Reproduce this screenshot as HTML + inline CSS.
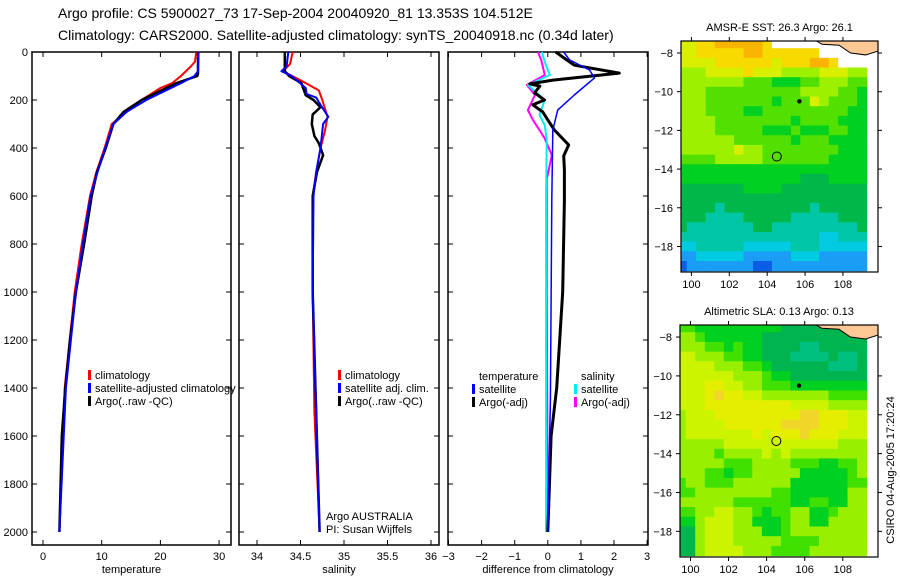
<!DOCTYPE html>
<html><head><meta charset="utf-8">
<style>
html,body{margin:0;padding:0;background:#fff;}
svg{display:block;font-family:"Liberation Sans",sans-serif;}
</style></head>
<body>
<svg id="fig" width="900" height="580" viewBox="0 0 900 580">
<text x="58" y="18" font-size="14">Argo profile: CS 5900027_73 17-Sep-2004 20040920_81 13.353S 104.512E</text>
<text x="58" y="40" font-size="14">Climatology: CARS2000. Satellite-adjusted climatology: synTS_20040918.nc (0.34d later)</text>
</svg>
<script>
// ---------- DATA ----------
const depthTicks=[0,200,400,600,800,1000,1200,1400,1600,1800,2000];
const tempTicks=[0,10,20,30];
const salTicks=[34,34.5,35,35.5,36];
const diffTicks=[-3,-2,-1,0,1,2,3];
const tempArgoD=[0,90,100,130,150,200,250,300,400,500,600,800,1000,1200,1400,1600,1800,2000];
const tempArgoV=[26.4,26.4,26.3,22.7,21,16.8,13.7,12,10.7,9.2,8.3,7.0,5.6,4.6,3.8,3.2,3.0,2.8];
const tempClimD=[0,40,60,100,130,150,200,300,400,500,600,800,1000,1400,2000];
const tempClimV=[26.1,25.9,25.2,23.5,22,20,16.8,11.7,10.5,9.1,8,6.6,5.4,3.7,2.8];
const tempSatD=[0,80,100,130,150,200,250,300,400,500,600,800,1000,1400,2000];
const tempSatV=[26.5,26.4,25.8,23.5,21.8,17.6,14.2,12,10.6,9.3,8.1,6.8,5.6,3.9,2.8];
const salArgoD=[0,80,100,130,180,200,230,260,300,350,380,430,500,600,800,1000,2000];
const salArgoV=[34.32,34.32,34.37,34.51,34.56,34.65,34.73,34.64,34.63,34.66,34.71,34.76,34.69,34.64,34.64,34.64,34.72];
const salClimD=[0,50,80,120,160,200,270,330,400,500,600,1000,1500,2000];
const salClimV=[34.41,34.38,34.3,34.51,34.71,34.75,34.81,34.78,34.73,34.68,34.64,34.64,34.66,34.72];
const salSatD=[0,60,80,100,150,175,190,220,270,300,400,500,600,1000,2000];
const salSatV=[34.36,34.34,34.28,34.4,34.56,34.57,34.68,34.73,34.82,34.76,34.73,34.68,34.65,34.64,34.72];
const dTArgoD=[0,33,55,88,117,133,142,170,200,220,250,283,325,387,433,490,617,1000,1400,1600,2000];
const dTArgoV=[0.24,0.57,0.8,2.16,0.15,-0.54,-0.24,-0.4,-0.1,-0.45,-0.15,0,0.2,0.63,0.48,0.5,0.5,0.45,0.27,0.1,0];
const dTSatD=[0,33,75,108,179,242,325,617,1450,2000];
const dTSatV=[0.48,0.66,1.26,1.41,0.8,0.3,0.15,0.12,0.08,0];
const dSArgoD=[0,33,96,137,179,242,283,358,430,530,1000,2000];
const dSArgoV=[-0.3,-0.2,-0.09,-0.63,-0.39,-0.6,-0.45,-0.1,0.12,-0.03,-0.03,0];
const dSSatD=[0,42,96,137,200,262,305,367,600,2000];
const dSSatV=[-0.18,-0.09,0.06,-0.6,-0.09,-0.25,-0.09,-0.03,-0.05,-0.05];
const lonTicks=[100,102,104,106,108];
const latTicks=[-8,-10,-12,-14,-16,-18];
const sstPalette={"0":"#0a5ee6","1":"#1a9df5","2":"#00cbe0","3":"#00c6a6","4":"#00b84a","5":"#00d020","6":"#52e000","7":"#9cf000","8":"#d8f000","9":"#f6da00","A":"#f8b400","W":"#ffffff"};
const sstRows=["8899AAAAA9WWWWWWWWWW","8899999AA999999WWWWW","88889999998999AA9WWW","77788889888777788877","77777776665556677766","77766666666667777665","77766666665666876665","77766665566666666655","77776666666656666555","77776666655565556655","77777766666656665555","77777787766666666555","66667777766666665555","55555555555555555555","55555555555554445555","44444445555444444444","44444444444444444444","44443444444444344444","44433334444433333444","43333333443333333334","33333333333333322333","22333332222233322222","11222221111122211111","01111111001111111111"];
const slaPalette={"3":"#00c080","4":"#00b450","5":"#00d020","6":"#40e000","7":"#98f000","8":"#ccf400","9":"#e6ee00","A":"#f0d628","W":"#ffffff"};
const slaRows=["66555555555444444444","77655555544444444444","77766565544443344444","88777665544433334334","88887776654444443334","88888877765544444444","88899887766655555555","8889A998877777776666","88899999999988887777","7888999999999AA99988","78888999999AAAA99988","7888888898999A999888","77777888888888888777","77776777787877777777","77777666777766655667","77766566777775555567","67766677777755555566","66777777776655555577","77777766666655665577","66778877656677556777","55788877555677557777","44788877755677777777","44788877777666677777","44788887776666777777"];
const mapSST={title:"AMSR-E SST: 26.3 Argo: 26.1",x0:681,x1:878,y0:41,y1:272,pal:sstPalette,rows:sstRows,name:"sst-map"};
const mapSLA={title:"Altimetric SLA: 0.13 Argo: 0.13",x0:680,x1:878,y0:325,y1:557,pal:slaPalette,rows:slaRows,name:"sla-map"};

// ---------- DRAW ----------
const NS="http://www.w3.org/2000/svg";
const svg=document.getElementById('fig');
function el(tag,attrs,parent,txt){const e=document.createElementNS(NS,tag);for(const k in attrs)e.setAttribute(k,attrs[k]);if(txt!==undefined)e.textContent=txt;(parent||svg).appendChild(e);return e;}
const yTop=52,yBot=545,pxPerM=0.24;
function yD(d){return yTop+d*pxPerM;}

function panel(p){
  const g=el('g',{});
  
  
  const box=el('rect',{x:p.x0,y:yTop,width:p.x1-p.x0,height:yBot-yTop,fill:'none',stroke:'#000','stroke-width':1.5},g);
  
  
  const sx=v=>p.ax+(v-p.v0)*p.k;
  p.ticks.forEach(t=>{
    const x=sx(t);
    el('line',{x1:x,y1:yBot,x2:x,y2:yBot-5,stroke:'#000'},g);
    el('line',{x1:x,y1:yTop,x2:x,y2:yTop+5,stroke:'#000'},g);
    const lab=el('text',{x:x,y:yBot+15,'font-size':11,'text-anchor':'middle'},g,String(t).replace('-','\u2212'));
    
    
  });
  depthTicks.forEach(d=>{
    const y=yD(d);
    el('line',{x1:p.x0,y1:y,x2:p.x0+5,y2:y,stroke:'#000'},g);
    el('line',{x1:p.x1,y1:y,x2:p.x1-5,y2:y,stroke:'#000'},g);
    if(p.ylabels){const l=el('text',{x:p.x0-4,y:y+4,'font-size':11,'text-anchor':'end'},g,String(d));
      
      }
  });
  const xl=el('text',{x:(p.x0+p.x1)/2,y:573,'font-size':11,'text-anchor':'middle'},g,p.xlabel);
  
  
  p.series.forEach(s=>{
    const pts=s.d.map((d,i)=>sx(s.v[i]).toFixed(1)+','+yD(d).toFixed(1)).join(' ');
    const line=el('polyline',{points:pts,fill:'none',stroke:s.c,'stroke-width':s.w||2,'stroke-linejoin':'round'},g);
    
    
  });
  return g;
}
panel({name:'temperature-panel',x0:32,x1:231,ax:43,v0:0,k:5.87,ticks:tempTicks,ylabels:true,xlabel:'temperature',
 series:[{d:tempClimD,v:tempClimV,c:'#f00',name:'temp-climatology-line'},{d:tempArgoD,v:tempArgoV,c:'#000',w:2.5,name:'temp-argo-line'},{d:tempSatD,v:tempSatV,c:'#00f',name:'temp-satellite-line'}]});
panel({name:'salinity-panel',x0:239,x1:439,ax:257,v0:34,k:87,ticks:salTicks,xlabel:'salinity',
 series:[{d:salClimD,v:salClimV,c:'#f00',name:'sal-climatology-line'},{d:salArgoD,v:salArgoV,c:'#000',w:2.5,name:'sal-argo-line'},{d:salSatD,v:salSatV,c:'#00f',name:'sal-satellite-line'}]});
panel({name:'difference-panel',x0:448,x1:648,ax:448.5,v0:-3,k:33.1,ticks:diffTicks,xlabel:'difference from climatology',
 series:[{d:dSArgoD,v:dSArgoV,c:'#f0f',name:'diff-sal-argo-line'},{d:dSSatD,v:dSSatV,c:'#0ee',name:'diff-sal-satellite-line'},{d:dTArgoD,v:dTArgoV,c:'#000',w:3,name:'diff-temp-argo-line'},{d:dTSatD,v:dTSatV,c:'#00f',w:1.5,name:'diff-temp-satellite-line'}]});

function legend(x,y,items,name){
  const g=el('g',{});
  
  
  items.forEach((it,i)=>{
    const yy=y+i*13;
    if(it.c){el('rect',{x:x,y:yy-9,width:3,height:10,fill:it.c},g);}
    const t=el('text',{x:x+7,y:yy,'font-size':11},g,it.t);
    
    
  });
}
legend(88,379,[{c:'#f00',t:'climatology'},{c:'#00f',t:'satellite-adjusted climatology'},{c:'#000',t:'Argo(..raw -QC)'}],'temperature-legend');
legend(338,379,[{c:'#f00',t:'climatology'},{c:'#00f',t:'satellite adj. clim.'},{c:'#000',t:'Argo(..raw -QC)'}],'salinity-legend');
legend(472,380,[{t:'temperature'},{c:'#00f',t:'satellite'},{c:'#000',t:'Argo(-adj)'}],'diff-temp-legend');
legend(574,380,[{t:'salinity'},{c:'#0ee',t:'satellite'},{c:'#f0f',t:'Argo(-adj)'}],'diff-sal-legend');
el('text',{x:326,y:520,'font-size':11},svg,'Argo AUSTRALIA');
el('text',{x:326,y:533,'font-size':11},svg,'PI: Susan Wijffels');

function drawMap(m){
  const g=el('g',{});
  
  
  const lon0=99.45,lon1=109.85,latTop=-7.38,latBot=-19.32;
  const kx=(m.x1-m.x0)/(lon1-lon0), ky=(m.y1-m.y0)/(latTop-latBot);
  const X=lo=>m.x0+(lo-lon0)*kx, Y=la=>m.y0+(latTop-la)*ky;
  const clip=el('clipPath',{id:'clip-'+m.name},g);
  el('rect',{x:m.x0,y:m.y0,width:m.x1-m.x0,height:m.y1-m.y0},clip);
  const cg=el('g',{'clip-path':'url(#clip-'+m.name+')'},g);
  m.rows.forEach((row,r)=>{
    for(let c=0;c<row.length;c++){
      const lo=99.5+c*0.5, la=-7.5-r*0.5;
      const cell=el('rect',{x:X(lo-0.25).toFixed(1),y:Y(la+0.25).toFixed(1),width:(kx*0.5+0.6).toFixed(1),height:(ky*0.5+0.6).toFixed(1),fill:m.pal[row[c]]},cg);
      
      
    }
  });
  const land=el('path',{d:`M${X(106.6)},${Y(-7.38)} L${X(106.9)},${Y(-7.55)} L${X(107.8)},${Y(-7.6)} L${X(108.4)},${Y(-8.0)} L${X(109.2)},${Y(-8.1)} L${X(109.85)},${Y(-7.9)} L${X(109.85)},${Y(-7.38)} Z`,fill:'#fcc896',stroke:'#000','stroke-width':1},cg);
  
  
  el('circle',{cx:X(105.7),cy:Y(-10.5),r:2.2,fill:'#000'},cg);
  el('circle',{cx:X(104.51),cy:Y(-13.35),r:4.5,fill:'none',stroke:'#000','stroke-width':1},cg);
  el('rect',{x:m.x0,y:m.y0,width:m.x1-m.x0,height:m.y1-m.y0,fill:'none',stroke:'#000','stroke-width':1.2},g);
  lonTicks.forEach(lo=>{const x=X(lo);
    el('line',{x1:x,y1:m.y1,x2:x,y2:m.y1+4,stroke:'#000'},g);
    el('line',{x1:x,y1:m.y0,x2:x,y2:m.y0-4,stroke:'#000'},g);
    const t=el('text',{x:x,y:m.y1+16,'font-size':11,'text-anchor':'middle'},g,String(lo));
    
    });
  latTicks.forEach(la=>{const y=Y(la);
    el('line',{x1:m.x0,y1:y,x2:m.x0-4,y2:y,stroke:'#000'},g);
    el('line',{x1:m.x1,y1:y,x2:m.x1+4,y2:y,stroke:'#000'},g);
    const t=el('text',{x:m.x0-8,y:y+4,'font-size':11,'text-anchor':'end'},g,String(la).replace('-','\u2212'));
    
    });
  const tt=el('text',{x:(m.x0+m.x1)/2,y:m.y0-10,'font-size':11,'text-anchor':'middle'},g,m.title);
  
  
}
drawMap(mapSST);
drawMap(mapSLA);
const stamp=el('text',{x:0,y:0,'font-size':11,'text-anchor':'middle',transform:'translate(894,470) rotate(-90)'},svg,'CSIRO 04-Aug-2005 17:20:24');


</script>
</body></html>
